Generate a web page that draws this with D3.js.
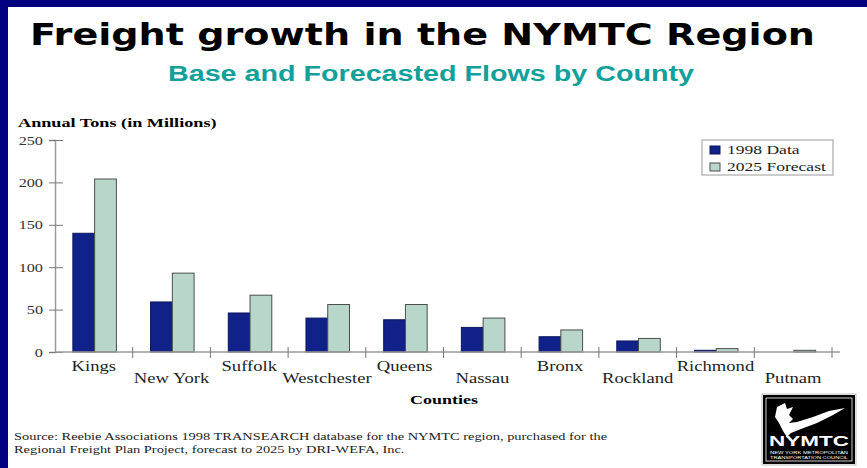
<!DOCTYPE html>
<html>
<head>
<meta charset="utf-8">
<script src="https://cdn.jsdelivr.net/npm/d3@7"></script>
<style>
body { margin: 0; background: #fff; }
svg { display: block; }
.serif { font-family: "Liberation Serif", "Times New Roman", serif; }
</style>
</head>
<body>
<script>
const WIDTH = 867;
const HEIGHT = 468;
const SX = 1.33; // the slide's serif text is stretched sideways

var counties = ['Kings','New York','Suffolk','Westchester','Queens','Nassau','Bronx','Rockland','Richmond','Putnam'];
var data1998 = [140, 59, 46, 40, 38, 29, 18, 13, 2, 0];
var forecast2025 = [204, 93, 67, 56, 56, 40, 26, 16, 4, 2];
var seriesNames = ['1998 Data','2025 Forecast'];
var yTicks = [0, 50, 100, 150, 200, 250];

var colors = ['#10218a','#b8d6c9'];
var strokes = ['#0b165e','#4a4f4c'];

// move x/y into a transform so the glyphs can be widened around their anchor
var stretch = function(sel, sx){
	sel.each(function(){
		var t = d3.select(this);
		var tx = +t.attr('x') || 0, ty = +t.attr('y') || 0;
		t.attr('x',0).attr('y',0)
			.attr('transform','translate('+tx+','+ty+') scale('+sx+',1)');
	});
}

var svg = d3.select('body')
	.append('svg')
	.attr('width',WIDTH)
	.attr('height',HEIGHT);

// slide frame
svg.append('rect').attr('x',0).attr('y',0).attr('width',WIDTH).attr('height',7).attr('fill','#000080');
svg.append('rect').attr('x',0).attr('y',0).attr('width',8).attr('height',HEIGHT).attr('fill','#000080');

svg.append('text')
	.attr('x',30).attr('y',45)
	.attr('textLength',785).attr('lengthAdjust','spacingAndGlyphs')
	.style('font-family','"DejaVu Sans", Verdana, sans-serif')
	.style('font-weight','bold').style('font-size','31px')
	.text('Freight growth in the NYMTC Region');

svg.append('text')
	.attr('x',431).attr('y',81)
	.attr('text-anchor','middle')
	.attr('textLength',526).attr('lengthAdjust','spacingAndGlyphs')
	.style('font-family','"Liberation Sans", Arial, sans-serif')
	.style('font-weight','bold').style('font-size','22px')
	.attr('fill','#11a09a')
	.text('Base and Forecasted Flows by County');

var x = d3.scaleBand().domain(counties).range([55,832]);
var xSub = d3.scaleBand().domain(seriesNames).range([x.bandwidth()*0.23, x.bandwidth()*0.79]);
var y = d3.scaleLinear().domain([0,250]).range([352,140]);

// y axis
var yAxis = d3.axisLeft(y).tickValues(yTicks).tickSize(6).tickPadding(6);
var gy = svg.append('g').attr('transform','translate(55,0)').call(yAxis);
gy.select('.domain').attr('stroke','#9a9a9a').attr('stroke-width',1.5);
gy.selectAll('.tick line').attr('x1',8).attr('stroke','#777');
gy.selectAll('.tick text').attr('class','serif').style('font-size','13px').attr('fill','#333')
	.attr('x',-12).call(stretch, 1.25);

svg.append('text').attr('class','serif')
	.attr('x',18).attr('y',127)
	.style('font-size','13px').style('font-weight','bold')
	.text('Annual Tons (in Millions)')
	.call(stretch, 1.4);

// bars
var rows = counties.map(function(c,i){ return {county:c, values:[data1998[i], forecast2025[i]]}; });
var groups = svg.append('g').selectAll('g')
	.data(rows).enter().append('g')
	.attr('transform',function(d){ return 'translate('+x(d.county)+',0)'; });
groups.selectAll('rect')
	.data(function(d){ return d.values.map(function(v,j){ return {name:seriesNames[j], v:v, j:j}; }); })
	.enter().filter(function(d){ return d.v > 0; })
	.append('rect')
	.attr('x',function(d){ return xSub(d.name); })
	.attr('width',xSub.bandwidth())
	.attr('y',function(d){ return y(d.v); })
	.attr('height',function(d){ return y(0) - y(d.v); })
	.attr('fill',function(d){ return colors[d.j]; })
	.attr('stroke',function(d){ return strokes[d.j]; })
	.attr('stroke-width',1);

// x axis
svg.append('line').attr('x1',55).attr('x2',840).attr('y1',y(0)).attr('y2',y(0))
	.attr('stroke','#9a9a9a').attr('stroke-width',1.5);
svg.append('g').selectAll('line')
	.data(counties).enter().append('line')
	.attr('x1',function(d){ return x(d) + x.bandwidth(); })
	.attr('x2',function(d){ return x(d) + x.bandwidth(); })
	.attr('y1',y(0) - 5).attr('y2',y(0) + 6)
	.attr('stroke','#777');
svg.append('g').selectAll('text')
	.data(counties).enter().append('text')
	.attr('class','serif')
	.attr('x',function(d){ return x(d) + x.bandwidth()/2; })
	.attr('y',function(d,i){ return i % 2 ? 383 : 371; })
	.attr('text-anchor','middle')
	.style('font-size','14px').attr('fill','#222')
	.text(function(d){ return d; })
	.call(stretch, SX);

svg.append('text').attr('class','serif')
	.attr('x',444).attr('y',404).attr('text-anchor','middle')
	.style('font-size','13.5px').style('font-weight','bold')
	.text('Counties')
	.call(stretch, SX);

// legend
var legend = svg.append('g').attr('transform','translate(702,140)');
legend.append('rect').attr('width',131).attr('height',35).attr('fill','#fff').attr('stroke','#999');
seriesNames.forEach(function(n,i){
	legend.append('rect').attr('x',8).attr('y',6 + i*17).attr('width',10).attr('height',8)
		.attr('fill',colors[i]).attr('stroke',strokes[i]);
	legend.append('text').attr('class','serif')
		.attr('x',25).attr('y',14 + i*17)
		.style('font-size','13.5px').attr('fill','#222')
		.text(n)
		.call(stretch, 1.3);
});

// source note
var srcLines = ['Source: Reebie Associations 1998 TRANSEARCH database for the NYMTC region, purchased for the',
	'Regional Freight Plan Project, forecast to 2025 by DRI-WEFA, Inc.'];
svg.append('g').selectAll('text')
	.data(srcLines).enter().append('text')
	.attr('class','serif')
	.attr('x',14).attr('y',function(d,i){ return 440 + i*13; })
	.style('font-size','11px').attr('fill','#222')
	.text(function(d){ return d; })
	.call(stretch, 1.31);

// logo
var logo = svg.append('g').attr('transform','translate(763,395)');
logo.append('rect').attr('x',-1).attr('y',-1).attr('width',94).attr('height',71).attr('fill','none').attr('stroke','#bbb');
logo.append('rect').attr('width',92).attr('height',69).attr('fill','#000');
logo.append('rect').attr('x',3).attr('y',3).attr('width',86).attr('height',63).attr('fill','none').attr('stroke','#fff').attr('stroke-width',0.8);
logo.append('path')
	.attr('d','M14,12 L22,8 L24,14 L30,12 L26,20 L30,24 L26,28 L34,27 L50,22 L66,16 L82,13 L70,20 L54,28 L38,34 L28,38 L24,42 L20,36 L16,28 L12,22 Z')
	.attr('fill','#fff');
logo.append('text')
	.attr('x',46).attr('y',51).attr('text-anchor','middle')
	.attr('textLength',80).attr('lengthAdjust','spacingAndGlyphs')
	.style('font-family','"Liberation Sans", Arial, sans-serif')
	.style('font-weight','900').style('font-size','15px').attr('fill','#fff')
	.text('NYMTC');
logo.append('text')
	.attr('x',46).attr('y',58.5).attr('text-anchor','middle')
	.attr('textLength',78).attr('lengthAdjust','spacingAndGlyphs')
	.style('font-family','"Liberation Sans", Arial, sans-serif')
	.style('font-size','4.2px').attr('fill','#fff')
	.text('NEW YORK METROPOLITAN');
logo.append('text')
	.attr('x',46).attr('y',64).attr('text-anchor','middle')
	.attr('textLength',78).attr('lengthAdjust','spacingAndGlyphs')
	.style('font-family','"Liberation Sans", Arial, sans-serif')
	.style('font-size','4.2px').attr('fill','#fff')
	.text('TRANSPORTATION COUNCIL');
</script>
</body>
</html>
